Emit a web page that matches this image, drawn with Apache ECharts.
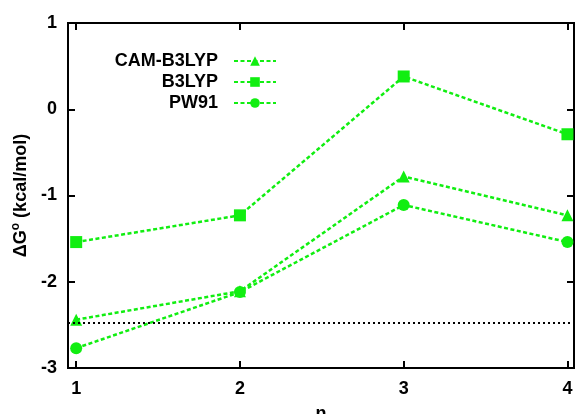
<!DOCTYPE html>
<html>
<head>
<meta charset="utf-8">
<script src="https://cdn.jsdelivr.net/npm/echarts@6/dist/echarts.min.js"></script>
<style>
  html, body { margin: 0; padding: 0; background: #fff; }
  #chart { width: 577px; height: 414px; }
</style>
</head>
<body>
<div id="chart"></div>
<script>
"use strict";

const nValues = [1, 2, 3, 4];
const camB3lyp = [-2.44, -2.11, -0.78, -1.23];
const b3lyp = [-1.54, -1.23, 0.38, -0.29];
const pw91 = [-2.77, -2.12, -1.11, -1.54];
const refLevel = -2.47;
const yTicks = [-3, -2, -1, 0, 1];

const GREEN = "#11ee11";
const FONT = "'Liberation Sans', Arial, sans-serif";

const pairs = (ys) => nValues.map((n, i) => [n, ys[i]]);

const chart = echarts.init(document.getElementById("chart"));

const tickLabel = { fontFamily: FONT, fontWeight: "bold", fontSize: 18, color: "#000" };
const tick = { inside: true, length: 7, lineStyle: { color: "#000", width: 2 } };
const frameLine = { show: true, onZero: false, lineStyle: { color: "#000", width: 2 } };

const mkSeries = (name, data, symbol, size) => ({
  name,
  type: "line",
  data: pairs(data),
  symbol,
  symbolSize: size,
  showAllSymbol: true,
  itemStyle: { color: GREEN },
  lineStyle: { color: GREEN, width: 2.5, type: [4, 2.5] },
});

chart.setOption({
  animation: false,
  backgroundColor: "#fff",
  grid: {
    left: 68, right: 3, top: 23, bottom: 46,
    outerBoundsMode: "none", containLabel: false,
    show: true, borderColor: "#000", borderWidth: 2,
  },
  legend: {
    orient: "vertical",
    right: 295,
    top: 47,
    align: "right",
    itemWidth: 42,
    itemHeight: 12,
    itemGap: 3,
    data: ["CAM-B3LYP", "B3LYP", "PW91"],
    textStyle: { fontFamily: FONT, fontWeight: "bold", fontSize: 18, lineHeight: 18, color: "#000", padding: [0, 11, 0, 0] },
  },
  xAxis: [
    {
      type: "value", min: 0.95, max: 4.04,
      name: "n", nameLocation: "middle", nameGap: 37,
      nameTextStyle: tickLabel,
      axisLine: frameLine,
      axisTick: { ...tick, customValues: nValues },
      axisLabel: { ...tickLabel, margin: 12, customValues: nValues },
      splitLine: { show: false },
    },
    {
      type: "value", position: "top", min: 0.95, max: 4.04,
      axisLine: frameLine,
      axisTick: { ...tick, customValues: nValues },
      axisLabel: { show: false, customValues: nValues },
      splitLine: { show: false },
    },
  ],
  yAxis: [
    {
      type: "value", min: -3, max: 1, interval: 1,
      name: "ΔG{sup|o} (kcal/mol)", nameLocation: "middle", nameGap: 33,
      nameTextStyle: { ...tickLabel, rich: { sup: { ...tickLabel, fontSize: 12, verticalAlign: "top", padding: [0, 0, 10, 0] } } },
      axisLine: frameLine,
      axisTick: { ...tick, customValues: yTicks },
      axisLabel: { ...tickLabel, margin: 11, customValues: yTicks },
      splitLine: { show: false },
    },
    {
      type: "value", position: "right", min: -3, max: 1, interval: 1,
      axisLine: frameLine,
      axisTick: { ...tick, customValues: yTicks },
      axisLabel: { show: false },
      splitLine: { show: false },
    },
  ],
  series: [
    {
      ...mkSeries("CAM-B3LYP", camB3lyp, "triangle", 12),
      markLine: {
        silent: true,
        symbol: "none",
        label: { show: false },
        lineStyle: { color: "#000", width: 2, type: [2, 3] },
        data: [{ yAxis: refLevel }],
      },
    },
    mkSeries("B3LYP", b3lyp, "rect", 12),
    mkSeries("PW91", pw91, "circle", 12),
  ],
});
</script>
</body>
</html>
